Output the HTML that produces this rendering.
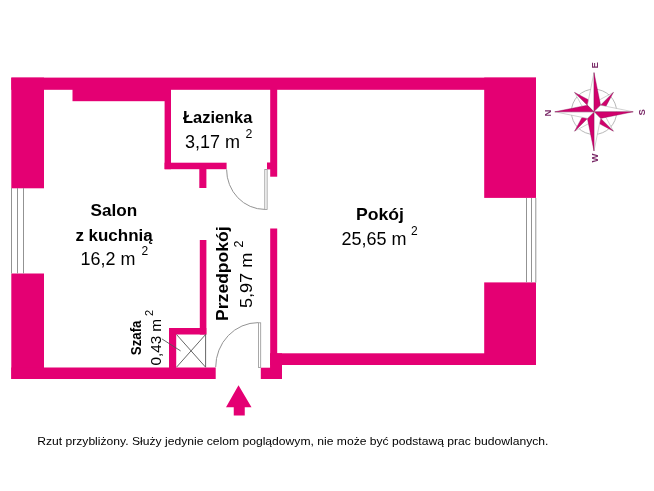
<!DOCTYPE html>
<html><head><meta charset="utf-8">
<style>
html,body{margin:0;padding:0;background:#fff;width:654px;height:491px;overflow:hidden}
svg{display:block;will-change:transform}
text{font-family:"Liberation Sans",sans-serif}
</style></head><body>
<svg width="654" height="491" viewBox="0 0 654 491">
<g fill="#E40073">
<rect x="11.3" y="77.6" width="524.7" height="12.2"/>
<rect x="72.5" y="89" width="92.5" height="12.2"/>
<rect x="11.3" y="77.6" width="32.7" height="110.7"/>
<rect x="11.3" y="273.5" width="32.7" height="105.5"/>
<rect x="11.3" y="367.5" width="204.4" height="11.5"/>
<rect x="169" y="328" width="7.2" height="40"/>
<rect x="169" y="328" width="37.3" height="6.5"/>
<rect x="199.8" y="240" width="6.6" height="94.5"/>
<rect x="164.6" y="89" width="6.4" height="80.2"/>
<rect x="164.6" y="162.7" width="62.0" height="6.5"/>
<rect x="199.3" y="168" width="7.1" height="20"/>
<rect x="270.2" y="89" width="7.0" height="87.7"/>
<rect x="267" y="162.5" width="4" height="6.9"/>
<rect x="270.2" y="228.5" width="7.0" height="150.5"/>
<rect x="260.8" y="367.7" width="21.2" height="11.3"/>
<rect x="270.2" y="353.3" width="11.8" height="25.7"/>
<rect x="270.2" y="353.3" width="265.8" height="11.7"/>
<rect x="484.2" y="77.6" width="51.8" height="120.3"/>
<rect x="484.2" y="282.4" width="51.8" height="82.6"/>
<path d="M238.5,385.2 L251.5,407.3 L244.75,407.3 L244.75,415.6 L233.75,415.6 L233.75,407.3 L226,407.3 Z"/>
</g>
<g stroke="#939393" stroke-width="1" fill="none">
<line x1="11.5" y1="188" x2="11.5" y2="273.5"/>
<line x1="17.5" y1="188" x2="17.5" y2="273.5"/>
<line x1="23.5" y1="188" x2="23.5" y2="273.5"/>
<line x1="526.5" y1="198" x2="526.5" y2="282.5"/>
<line x1="531.5" y1="198" x2="531.5" y2="282.5"/>
<line x1="535.8" y1="198" x2="535.8" y2="282.5"/>
<rect x="264.8" y="169.4" width="2.3" height="40" stroke-width="0.8"/>
<path d="M226.6,169.4 A38.2,40 0 0 0 264.8,209.4"/>
<rect x="258.4" y="322.8" width="2.3" height="44.7" stroke-width="0.8"/>
<path d="M258.3,322.6 A42.6,44.6 0 0 0 215.7,367.2"/>
</g>
<g stroke="#555" stroke-width="0.9" fill="none">
<line x1="205.6" y1="334.3" x2="205.6" y2="367.2"/>
<line x1="176.5" y1="334.5" x2="205.6" y2="367.2"/>
<line x1="205.6" y1="334.5" x2="176.5" y2="367.2"/>
<line x1="161.9" y1="338.9" x2="180.6" y2="350.9"/>
</g>
<g>
<circle cx="594.0" cy="111.8" r="22.6" fill="none" stroke="#a5a5a5" stroke-width="0.8"/>
<polygon points="613.37,92.43 599.66,99.78 596.12,109.68" fill="#fff" stroke="#a0a0a0" stroke-width="0.5" stroke-linejoin="round"/>
<polygon points="613.37,92.43 606.02,106.14 596.12,109.68" fill="#D2006C" stroke="#8c0c58" stroke-width="0.4" stroke-linejoin="round"/>
<polygon points="613.37,131.17 606.02,117.46 596.12,113.92" fill="#fff" stroke="#a0a0a0" stroke-width="0.5" stroke-linejoin="round"/>
<polygon points="613.37,131.17 599.66,123.82 596.12,113.92" fill="#D2006C" stroke="#8c0c58" stroke-width="0.4" stroke-linejoin="round"/>
<polygon points="574.63,131.17 588.34,123.82 591.88,113.92" fill="#fff" stroke="#a0a0a0" stroke-width="0.5" stroke-linejoin="round"/>
<polygon points="574.63,131.17 581.98,117.46 591.88,113.92" fill="#D2006C" stroke="#8c0c58" stroke-width="0.4" stroke-linejoin="round"/>
<polygon points="574.63,92.43 581.98,106.14 591.88,109.68" fill="#fff" stroke="#a0a0a0" stroke-width="0.5" stroke-linejoin="round"/>
<polygon points="574.63,92.43 588.34,99.78 591.88,109.68" fill="#D2006C" stroke="#8c0c58" stroke-width="0.4" stroke-linejoin="round"/>
<polygon points="594.00,72.60 587.40,105.20 594.00,111.80" fill="#fff" stroke="#a0a0a0" stroke-width="0.5" stroke-linejoin="round"/>
<polygon points="594.00,72.60 600.60,105.20 594.00,111.80" fill="#D2006C" stroke="#8c0c58" stroke-width="0.4" stroke-linejoin="round"/>
<polygon points="633.20,111.80 600.60,105.20 594.00,111.80" fill="#fff" stroke="#a0a0a0" stroke-width="0.5" stroke-linejoin="round"/>
<polygon points="633.20,111.80 600.60,118.40 594.00,111.80" fill="#D2006C" stroke="#8c0c58" stroke-width="0.4" stroke-linejoin="round"/>
<polygon points="594.00,151.00 600.60,118.40 594.00,111.80" fill="#fff" stroke="#a0a0a0" stroke-width="0.5" stroke-linejoin="round"/>
<polygon points="594.00,151.00 587.40,118.40 594.00,111.80" fill="#D2006C" stroke="#8c0c58" stroke-width="0.4" stroke-linejoin="round"/>
<polygon points="554.80,111.80 587.40,118.40 594.00,111.80" fill="#fff" stroke="#a0a0a0" stroke-width="0.5" stroke-linejoin="round"/>
<polygon points="554.80,111.80 587.40,105.20 594.00,111.80" fill="#D2006C" stroke="#8c0c58" stroke-width="0.4" stroke-linejoin="round"/>
</g>
<text x="183.00" y="123.10" font-size="15.70" font-weight="bold" textLength="69.41" lengthAdjust="spacingAndGlyphs" fill="#000">Łazienka</text>
<text x="185.00" y="147.50" font-size="17.80" textLength="55.08" lengthAdjust="spacingAndGlyphs" fill="#000">3,17 m</text>
<text x="245.60" y="138.00" font-size="12.29" fill="#000">2</text>
<text x="90.60" y="216.40" font-size="15.90" font-weight="bold" textLength="46.70" lengthAdjust="spacingAndGlyphs" fill="#000">Salon</text>
<text x="75.40" y="240.60" font-size="16.50" font-weight="bold" textLength="77.23" lengthAdjust="spacingAndGlyphs" fill="#000">z kuchnią</text>
<text x="80.60" y="265.00" font-size="18.20" textLength="54.81" lengthAdjust="spacingAndGlyphs" fill="#000">16,2 m</text>
<text x="141.40" y="255.40" font-size="11.99" fill="#000">2</text>
<text x="356.00" y="220.00" font-size="15.90" font-weight="bold" textLength="47.96" lengthAdjust="spacingAndGlyphs" fill="#000">Pokój</text>
<text x="341.40" y="244.70" font-size="18.30" textLength="65.10" lengthAdjust="spacingAndGlyphs" fill="#000">25,65 m</text>
<text x="411.00" y="234.60" font-size="11.99" fill="#000">2</text>
<text transform="translate(228.00,320.90) rotate(-90)" x="0" y="0" font-size="16.30" font-weight="bold" textLength="94.51" lengthAdjust="spacingAndGlyphs" fill="#000">Przedpokój</text>
<text transform="translate(252.00,308.10) rotate(-90)" x="0" y="0" font-size="17.20" textLength="55.34" lengthAdjust="spacingAndGlyphs" fill="#000">5,97 m</text>
<text transform="translate(242.60,247.60) rotate(-90)" x="0" y="0" font-size="12.45" fill="#000">2</text>
<text transform="translate(141.10,355.20) rotate(-90)" x="0" y="0" font-size="14.90" font-weight="bold" textLength="34.64" lengthAdjust="spacingAndGlyphs" fill="#000">Szafa</text>
<text transform="translate(161.30,365.60) rotate(-90)" x="0" y="0" font-size="15.30" textLength="46.69" lengthAdjust="spacingAndGlyphs" fill="#000">0,43 m</text>
<text transform="translate(152.80,316.10) rotate(-90)" x="0" y="0" font-size="11.00" fill="#000">2</text>
<text transform="translate(598.10,68.40) rotate(-90)" x="0" y="0" font-size="9.50" font-weight="bold" fill="#7a2a68">E</text>
<text transform="translate(551.00,116.40) rotate(-90)" x="0" y="0" font-size="9.50" font-weight="bold" fill="#7a2a68">N</text>
<text transform="translate(644.60,115.40) rotate(-90)" x="0" y="0" font-size="9.50" font-weight="bold" fill="#7a2a68">S</text>
<text transform="translate(598.10,162.40) rotate(-90)" x="0" y="0" font-size="9.50" font-weight="bold" fill="#7a2a68">W</text>
<text x="37.20" y="445.00" font-size="11.80" textLength="511.20" lengthAdjust="spacingAndGlyphs" fill="#000">Rzut przybliżony. Służy jedynie celom poglądowym, nie może być podstawą prac budowlanych.</text>
</svg>
</body></html>
